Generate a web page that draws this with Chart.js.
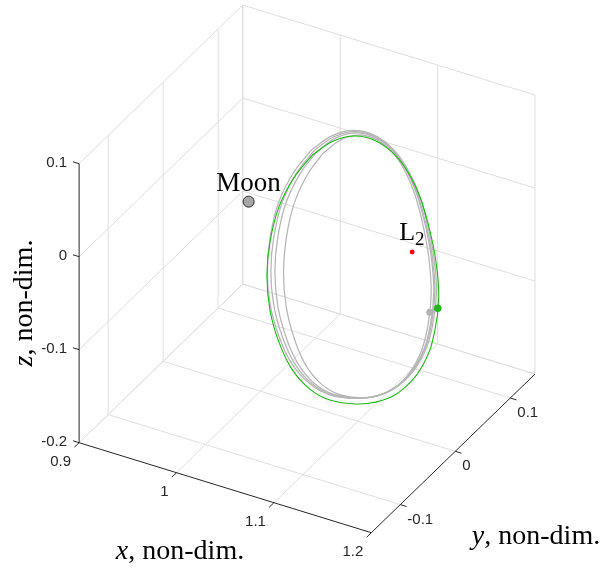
<!DOCTYPE html>
<html>
<head>
<meta charset="utf-8">
<script src="https://cdn.jsdelivr.net/npm/chart.js@4.4.1/dist/chart.umd.min.js"></script>
<style>
  html, body { margin: 0; padding: 0; background: #fff; }
  #wrap { width: 605px; height: 571px; }
</style>
</head>
<body>
<div id="wrap"><canvas id="chart" width="605" height="571"></canvas></div>
<script>
// axis limits and ticks (non-dim.)
const xLim = [0.9, 1.2];
const yLim = [-0.1527, 0.1449];
const zLim = [-0.2, 0.1];
const xTicks = [0.9, 1, 1.1, 1.2];
const yTicks = [-0.1, 0, 0.1];
const zTicks = [-0.2, -0.1, 0, 0.1];
const xTickLabels = ['0.9', '1', '1.1', '1.2'];
const yTickLabels = ['-0.1', '0', '0.1'];
const zTickLabels = ['-0.2', '-0.1', '0', '0.1'];

// Moon and L2
const moonPos = [0.9878, 0, 0];
const l2Pos = [1.1557, 0, 0];

// reference halo orbit (green)
const haloX = [1.0529, 1.0544, 1.0584, 1.0639, 1.0711, 1.0777, 1.0863, 1.0982, 1.1131, 1.1283, 1.1402, 1.1486, 1.1481, 1.1435, 1.1365, 1.1259, 1.1176, 1.1069, 1.0963, 1.0844, 1.0736, 1.0645, 1.0577, 1.0545];
const haloY = [0, 0.0355, 0.0685, 0.0969, 0.1186, 0.1323, 0.1370, 0.1323, 0.1186, 0.0969, 0.0685, 0.0355, 0, -0.0355, -0.0685, -0.0969, -0.1186, -0.1323, -0.1370, -0.1323, -0.1186, -0.0969, -0.0685, -0.0355];
const haloZ = [0.0708, 0.0662, 0.0541, 0.0343, 0.0092, -0.0168, -0.0415, -0.0673, -0.0913, -0.1128, -0.1295, -0.1403, -0.1483, -0.1436, -0.1303, -0.1133, -0.0918, -0.0659, -0.0376, -0.0097, 0.0157, 0.0370, 0.0564, 0.0678];

// propagated revolutions (grey)
const rev1X = [1.0525, 1.0540, 1.0579, 1.0633, 1.0704, 1.0769, 1.0854, 1.0971, 1.1118, 1.1268, 1.1385, 1.1468, 1.1463, 1.1417, 1.1349, 1.1244, 1.1162, 1.1057, 1.0953, 1.0835, 1.0729, 1.0639, 1.0572, 1.0541];
const rev1Y = [0, 0.0350, 0.0675, 0.0954, 0.1168, 0.1303, 0.1349, 0.1303, 0.1168, 0.0954, 0.0675, 0.0350, 0, -0.0350, -0.0675, -0.0954, -0.1168, -0.1303, -0.1349, -0.1303, -0.1168, -0.0954, -0.0675, -0.0350];
const rev1Z = [0.0766, 0.0723, 0.0605, 0.0409, 0.0159, -0.0100, -0.0347, -0.0606, -0.0848, -0.1065, -0.1235, -0.1346, -0.1429, -0.1385, -0.1255, -0.1087, -0.0873, -0.0615, -0.0332, -0.0052, 0.0204, 0.0419, 0.0616, 0.0733];

const rev2X = [1.0548, 1.0563, 1.0601, 1.0653, 1.0722, 1.0785, 1.0867, 1.0981, 1.1123, 1.1268, 1.1382, 1.1462, 1.1457, 1.1413, 1.1347, 1.1245, 1.1166, 1.1064, 1.0963, 1.0849, 1.0746, 1.0659, 1.0594, 1.0563];
const rev2Y = [0, 0.0339, 0.0654, 0.0925, 0.1133, 0.1263, 0.1308, 0.1263, 0.1133, 0.0925, 0.0654, 0.0339, 0, -0.0339, -0.0654, -0.0925, -0.1133, -0.1263, -0.1308, -0.1263, -0.1133, -0.0925, -0.0654, -0.0339];
const rev2Z = [0.0762, 0.0724, 0.0611, 0.0420, 0.0174, -0.0083, -0.0328, -0.0588, -0.0831, -0.1052, -0.1226, -0.1342, -0.1430, -0.1391, -0.1265, -0.1101, -0.0891, -0.0635, -0.0353, -0.0073, 0.0184, 0.0402, 0.0603, 0.0724];

const rev3X = [1.0576, 1.0590, 1.0627, 1.0678, 1.0744, 1.0805, 1.0885, 1.0995, 1.1133, 1.1273, 1.1383, 1.1461, 1.1456, 1.1414, 1.1349, 1.1251, 1.1174, 1.1075, 1.0977, 1.0867, 1.0767, 1.0683, 1.0620, 1.0591];
const rev3Y = [0, 0.0328, 0.0634, 0.0896, 0.1097, 0.1224, 0.1267, 0.1224, 0.1097, 0.0896, 0.0634, 0.0328, 0, -0.0328, -0.0634, -0.0896, -0.1097, -0.1224, -0.1267, -0.1224, -0.1097, -0.0896, -0.0634, -0.0328];
const rev3Z = [0.0759, 0.0727, 0.0618, 0.0431, 0.0189, -0.0064, -0.0309, -0.0569, -0.0814, -0.1038, -0.1217, -0.1338, -0.1430, -0.1395, -0.1274, -0.1114, -0.0908, -0.0654, -0.0374, -0.0093, 0.0166, 0.0386, 0.0590, 0.0716];

const rev4X = [1.0634, 1.0647, 1.0681, 1.0729, 1.0790, 1.0847, 1.0921, 1.1024, 1.1152, 1.1282, 1.1385, 1.1457, 1.1453, 1.1413, 1.1353, 1.1262, 1.1190, 1.1098, 1.1007, 1.0905, 1.0812, 1.0734, 1.0675, 1.0648];
const rev4Y = [0, 0.0305, 0.0589, 0.0833, 0.1020, 0.1138, 0.1178, 0.1138, 0.1020, 0.0833, 0.0589, 0.0305, 0, -0.0305, -0.0589, -0.0833, -0.1020, -0.1138, -0.1178, -0.1138, -0.1020, -0.0833, -0.0589, -0.0305];
const rev4Z = [0.0755, 0.0733, 0.0636, 0.0459, 0.0225, -0.0023, -0.0265, -0.0526, -0.0776, -0.1007, -0.1195, -0.1327, -0.1429, -0.1405, -0.1295, -0.1143, -0.0944, -0.0696, -0.0418, -0.0136, 0.0126, 0.0353, 0.0565, 0.0701];

// start points
const haloStart = [1.1323, 0.0880, -0.1184];
const revStart = [1.1258, 0.0850, -0.1230];

// fixed 3d view (orthographic, equal axes) -> canvas units
function proj(x, y, z) {
  return { x: -713.5 + 974 * x + 550 * y, y: -94.7 + 300 * x - 533 * y - 930 * z };
}

const GRID = '#dedede';
const AXIS = '#262626';
const datasets = [];

function seg(a, b, color, order) {
  datasets.push({
    data: [proj(...a), proj(...b)], showLine: true, borderColor: color,
    borderWidth: 1, pointRadius: 0, tension: 0, order: order
  });
}

const [x0, x1] = xLim, [y0, y1] = yLim, [z0, z1] = zLim;

// floor grid
xTicks.slice(0, -1).forEach(v => seg([v, y0, z0], [v, y1, z0], GRID, 50));
yTicks.concat([y1]).forEach(v => seg([x0, v, z0], [x1, v, z0], GRID, 50));
// left wall (x = x0)
yTicks.concat([y1]).forEach(v => seg([x0, v, z0], [x0, v, z1], GRID, 50));
zTicks.forEach(v => seg([x0, y0, v], [x0, y1, v], GRID, 50));
// back wall (y = y1)
xTicks.forEach(v => seg([v, y1, z0], [v, y1, z1], GRID, 50));
zTicks.forEach(v => seg([x0, y1, v], [x1, y1, v], GRID, 50));

// axes
seg([x0, y0, z0], [x0, y0, z1], AXIS, 40);
seg([x0, y0, z0], [x1, y0, z0], AXIS, 40);
seg([x1, y0, z0], [x1, y1, z0], AXIS, 40);

// tick marks, 6.5 px along a box direction
function tick(p, d) {
  const a = proj(...p);
  const b = proj(p[0] + d[0], p[1] + d[1], p[2] + d[2]);
  const n = Math.hypot(b.x - a.x, b.y - a.y);
  datasets.push({
    data: [a, { x: a.x + (b.x - a.x) / n * 6.5, y: a.y + (b.y - a.y) / n * 6.5 }],
    showLine: true, borderColor: AXIS, borderWidth: 1, pointRadius: 0, order: 40
  });
}
zTicks.forEach(v => tick([x0, y0, v], [-0.1, 0, 0]));
xTicks.forEach(v => tick([v, y0, z0], [0, -0.1, 0]));
yTicks.forEach(v => tick([x1, v, z0], [0.1, 0, 0]));

function loop(X, Y, Z) {
  const pts = X.map((v, i) => proj(v, Y[i], Z[i]));
  pts.push(pts[0]);
  return pts;
}

[[rev1X, rev1Y, rev1Z], [rev2X, rev2Y, rev2Z], [rev3X, rev3Y, rev3Z], [rev4X, rev4Y, rev4Z]].forEach(r => {
  datasets.push({
    data: loop(...r), showLine: true, borderColor: '#b5b5b5', borderWidth: 1.25,
    pointRadius: 0, tension: 0.4, order: 30
  });
});
datasets.push({
  data: loop(haloX, haloY, haloZ), showLine: true, borderColor: 'rgb(30,180,25)',
  borderWidth: 1.1, pointRadius: 0, tension: 0.4, order: 20
});

// markers
function marker(p, r, fill, edge, order) {
  datasets.push({
    data: [proj(...p)], pointRadius: r, pointBackgroundColor: fill,
    pointBorderColor: edge || fill, pointBorderWidth: edge ? 1 : 0, order: order
  });
}
marker(revStart, 3.5, '#b3b3b3', null, 12);
marker(haloStart, 3.8, 'rgb(38,181,30)', null, 11);
marker(moonPos, 5.5, '#a8a8a8', '#2b2b2b', 10);
marker(l2Pos, 2.4, '#ff0000', null, 10);

// text: tick labels, axis labels, annotations
const textPlugin = {
  id: 'text3d',
  afterDatasetsDraw(chart) {
    const ctx = chart.ctx;
    const sx = v => chart.scales.x.getPixelForValue(v);
    const sy = v => chart.scales.y.getPixelForValue(v);
    ctx.save();
    ctx.fillStyle = AXIS;
    ctx.font = '15px "Liberation Sans", Arial, sans-serif';
    ctx.textBaseline = 'middle';

    ctx.textAlign = 'right';
    zTicks.forEach((v, i) => {
      const p = proj(x0, y0, v);
      ctx.fillText(zTickLabels[i], sx(p.x) - 12, sy(p.y) - 1);
    });
    xTicks.forEach((v, i) => {
      const p = proj(v, y0, z0);
      ctx.fillText(xTickLabels[i], sx(p.x) - 8, sy(p.y) + 19.5);
    });
    ctx.textAlign = 'left';
    yTicks.forEach((v, i) => {
      const p = proj(x1, v, z0);
      ctx.fillText(yTickLabels[i], sx(p.x) + 7, sy(p.y) + 15);
    });

    // axis labels with italic variable
    ctx.fillStyle = '#000';
    ctx.textBaseline = 'alphabetic';
    function mathLabel(v, rest, cx, by, rot) {
      const fi = 'italic 28px "Liberation Serif", serif';
      const fr = '28px "Liberation Serif", serif';
      ctx.font = fi; const w1 = ctx.measureText(v).width;
      ctx.font = fr; const w2 = ctx.measureText(rest).width;
      ctx.save();
      ctx.translate(cx, by);
      if (rot) ctx.rotate(rot);
      ctx.textAlign = 'left';
      const s = -(w1 + w2) / 2;
      ctx.font = fi; ctx.fillText(v, s, 0);
      ctx.font = fr; ctx.fillText(rest, s + w1, 0);
      ctx.restore();
    }
    mathLabel('x', ', non-dim.', 180, 559, 0);
    mathLabel('y', ', non-dim.', 536, 544, 0);
    mathLabel('z', ', non-dim.', 32, 303, -Math.PI / 2);

    // Moon and L2 labels
    const m = proj(...moonPos);
    ctx.font = '27px "Liberation Serif", serif';
    ctx.textAlign = 'center';
    ctx.fillText('Moon', sx(m.x), sy(m.y) - 11);
    const l = proj(...l2Pos);
    ctx.textAlign = 'left';
    ctx.font = '26px "Liberation Serif", serif';
    ctx.fillText('L', sx(l.x) - 13, sy(l.y) - 12.5);
    const wl = ctx.measureText('L').width;
    ctx.font = '19px "Liberation Serif", serif';
    ctx.fillText('2', sx(l.x) - 13 + wl, sy(l.y) - 7.5);
    ctx.restore();
  }
};

new Chart(document.getElementById('chart'), {
  type: 'scatter',
  data: { datasets: datasets },
  options: {
    responsive: false,
    animation: false,
    events: [],
    layout: { padding: 0, autoPadding: false },
    plugins: { legend: { display: false }, tooltip: { enabled: false } },
    scales: {
      x: { type: 'linear', min: 0, max: 605, display: false },
      y: { type: 'linear', min: 0, max: 571, reverse: true, display: false }
    }
  },
  plugins: [textPlugin]
});
</script>
</body>
</html>
